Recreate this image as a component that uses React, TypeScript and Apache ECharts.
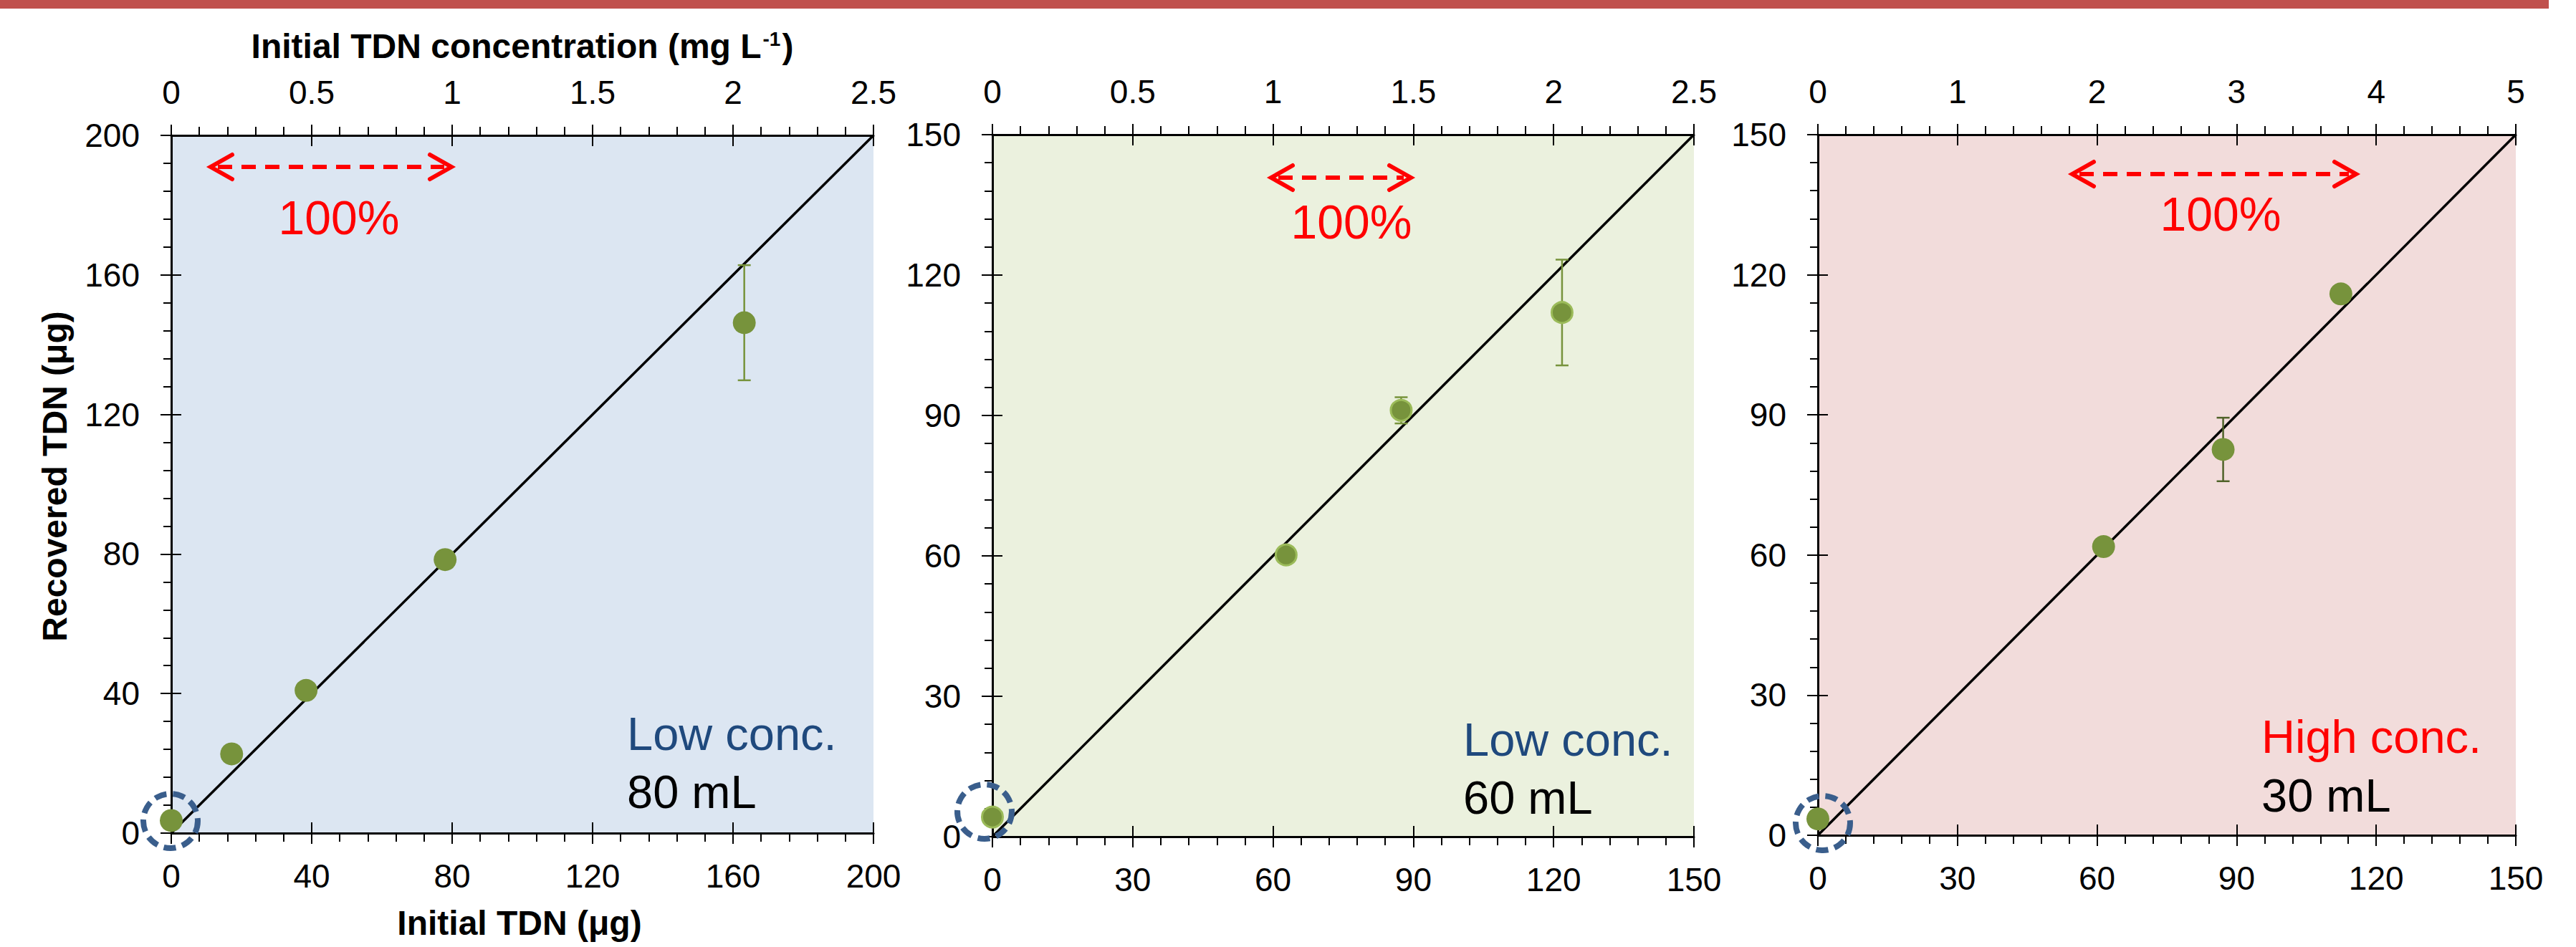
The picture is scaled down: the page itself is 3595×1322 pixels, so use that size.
import React, { useEffect, useRef } from "react";
import * as echarts from "echarts";

const FONT = "Liberation Sans, Arial, Helvetica, sans-serif";

// ---- Data ----
// Panel 1: Low conc., 80 mL
const p1Initial = [0, 17.2, 38.4, 78, 163.2];
const p1Recovered = [3.6, 22.7, 40.9, 78.4, 146.3];
const p1Err = [0, 0, 0, 0, 16.5];
// Panel 2: Low conc., 60 mL
const p2Initial = [0, 62.8, 87.4, 121.8];
const p2Recovered = [4.2, 60.2, 91.1, 112.0];
const p2Err = [0, 0, 2.8, 11.3];
// Panel 3: High conc., 30 mL
const p3Initial = [0, 61.4, 87.1, 112.4];
const p3Recovered = [3.5, 61.8, 82.6, 115.9];
const p3Err = [0, 0, 6.8, 0];

// Axis ranges / ticks
const massMax = [200, 150, 150];
const massStep = [40, 30, 30];
const concMax = [2.5, 2.5, 5];
const concStep = [0.5, 0.5, 1];

// 1:1 lines
const diag1 = [[0, 0], [200, 200]];
const diag2 = [[0, 0], [150, 150]];
const diag3 = [[0, 0], [150, 150]];

const concLabels = ["Low conc.", "Low conc.", "High conc."];
const volLabels = ["80 mL", "60 mL", "30 mL"];

// ---- Layout ----
const grids = [
  { left: 239, top: 189, width: 980, height: 974 },
  { left: 1385, top: 188, width: 979, height: 980 },
  { left: 2537, top: 188, width: 974, height: 978 },
];
const bgColors = ["#DCE6F2", "#EBF1DE", "#F2DCDB"];
const concColors = ["#1F497D", "#1F497D", "#FF0000"];
const errColors = ["#77933C", "#77933C", "#4F6228"];
const markerBorders = [0, 3, 0];
const arrows = [
  { x1: 294, x2: 630, y: 233, tx: 473, ty: 304 },
  { x1: 1774, x2: 1969, y: 248, tx: 1886, ty: 310 },
  { x1: 2892, x2: 3288, y: 243, tx: 3099, ty: 299 },
];
const noteText = [
  { x: 875, y1: 1024, y2: 1105 },
  { x: 2042, y1: 1032, y2: 1113 },
  { x: 3156, y1: 1028, y2: 1110 },
];
const circles = [
  { cx: 238, cy: 1146 },
  { cx: 1374, cy: 1133 },
  { cx: 2544, cy: 1149 },
];

const panelData = [
  { initial: p1Initial, recovered: p1Recovered, err: p1Err, diag: diag1 },
  { initial: p2Initial, recovered: p2Recovered, err: p2Err, diag: diag2 },
  { initial: p3Initial, recovered: p3Recovered, err: p3Err, diag: diag3 },
];

function buildOption() {
  const xAxis: any[] = [];
  const yAxis: any[] = [];
  const series: any[] = [];
  const tickStyle = { color: "#000", width: 2 };
  const labelStyle = { fontSize: 46, color: "#000", fontFamily: FONT };

  grids.forEach((_, g) => {
    const mk = (position: string, max: number, interval: number, main: boolean, margin: number) => ({
      type: "value",
      gridIndex: g,
      position,
      min: 0,
      max,
      interval,
      axisLine: { show: main, onZero: false, lineStyle: { color: "#000", width: 3 } },
      axisTick: { show: true, inside: main, length: 15, lineStyle: tickStyle },
      minorTick: { show: !main, splitNumber: 5, length: 12, lineStyle: tickStyle },
      splitLine: { show: false },
      minorSplitLine: { show: false },
      axisLabel: { show: main, margin, ...labelStyle },
    });
    xAxis.push(mk("bottom", massMax[g], massStep[g], true, 37));
    xAxis.push(mk("bottom", massMax[g], massStep[g], false, 37));
    xAxis.push(mk("top", concMax[g], concStep[g], true, 37));
    xAxis.push(mk("top", concMax[g], concStep[g], false, 37));
    const ym = mk("left", massMax[g], massStep[g], true, 44);
    ym.axisTick.length = 14;
    yAxis.push(ym);
    const yd = mk("left", massMax[g], massStep[g], false, 44);
    yd.minorTick.length = 11;
    yAxis.push(yd);

    const pd = panelData[g];
    series.push({
      type: "line",
      xAxisIndex: 4 * g,
      yAxisIndex: 2 * g,
      data: pd.diag,
      symbol: "none",
      silent: true,
      lineStyle: { color: "#000", width: 3.5 },
      z: 2,
    });
    series.push({
      type: "custom",
      xAxisIndex: 4 * g,
      yAxisIndex: 2 * g,
      coordinateSystem: "cartesian2d",
      encode: { x: 0, y: 1 },
      silent: true,
      z: 3,
      data: pd.initial
        .map((x, i) => [x, pd.recovered[i], pd.err[i]])
        .filter((d) => d[2] > 0),
      renderItem: (params: any, api: any) => {
        const x = api.value(0);
        const y = api.value(1);
        const e = api.value(2);
        const top = api.coord([x, y + e]);
        const bot = api.coord([x, y - e]);
        const style = { stroke: errColors[g], lineWidth: 2.5 };
        return {
          type: "group",
          children: [
            { type: "line", shape: { x1: top[0], y1: top[1], x2: bot[0], y2: bot[1] }, style },
            { type: "line", shape: { x1: top[0] - 9, y1: top[1], x2: top[0] + 9, y2: top[1] }, style },
            { type: "line", shape: { x1: bot[0] - 9, y1: bot[1], x2: bot[0] + 9, y2: bot[1] }, style },
          ],
        };
      },
    });
    series.push({
      type: "scatter",
      xAxisIndex: 4 * g,
      yAxisIndex: 2 * g,
      data: pd.initial.map((x, i) => [x, pd.recovered[i]]),
      symbol: "circle",
      symbolSize: markerBorders[g] ? 29 : 32,
      itemStyle: {
        color: "#77933C",
        borderColor: "#9BBB59",
        borderWidth: markerBorders[g],
        opacity: 1,
      },
      z: 4,
    });
  });

  const graphic: any[] = [];
  graphic.push({
    type: "rect",
    shape: { x: 0, y: 0, width: 3557, height: 12 },
    style: { fill: "#C0504D" },
    z: 100,
  });
  graphic.push({
    type: "text",
    x: 729,
    y: 64,
    z: 100,
    style: {
      text: "{b|Initial TDN concentration (mg L}{s|-1}{b|)}",
      align: "center",
      verticalAlign: "middle",
      rich: {
        b: { fontSize: 48, fontWeight: "bold", fontFamily: FONT, fill: "#000", color: "#000" },
        s: { fontSize: 28, fontWeight: "bold", fontFamily: FONT, fill: "#000", color: "#000", verticalAlign: "top", padding: [0, 2, 18, 2] },
      },
    },
  });
  graphic.push({
    type: "text",
    x: 76,
    y: 665,
    rotation: Math.PI / 2,
    z: 100,
    style: {
      text: "Recovered TDN (μg)",
      align: "center",
      verticalAlign: "middle",
      fontSize: 48,
      fontWeight: "bold",
      fontFamily: FONT,
      fill: "#000",
    },
  });
  graphic.push({
    type: "text",
    x: 725,
    y: 1288,
    z: 100,
    style: {
      text: "Initial TDN (μg)",
      align: "center",
      verticalAlign: "middle",
      fontSize: 48,
      fontWeight: "bold",
      fontFamily: FONT,
      fill: "#000",
    },
  });

  arrows.forEach((a) => {
    const red = "#FF0000";
    graphic.push({
      type: "line",
      z: 100,
      shape: { x1: a.x1 + 10, y1: a.y, x2: a.x2 - 10, y2: a.y },
      style: { stroke: red, lineWidth: 6, lineDash: [20, 13] },
    });
    graphic.push({
      type: "polyline",
      z: 100,
      shape: { points: [[a.x1 + 30, a.y - 17], [a.x1, a.y], [a.x1 + 30, a.y + 17]] },
      style: { stroke: red, lineWidth: 6, fill: "none", lineCap: "round" },
    });
    graphic.push({
      type: "polyline",
      z: 100,
      shape: { points: [[a.x2 - 30, a.y - 17], [a.x2, a.y], [a.x2 - 30, a.y + 17]] },
      style: { stroke: red, lineWidth: 6, fill: "none", lineCap: "round" },
    });
    graphic.push({
      type: "text",
      x: a.tx,
      y: a.ty,
      z: 100,
      style: {
        text: "100%",
        align: "center",
        verticalAlign: "middle",
        fontSize: 66,
        fontFamily: FONT,
        fill: red,
      },
    });
  });

  noteText.forEach((n, g) => {
    graphic.push({
      type: "text",
      x: n.x,
      y: n.y1,
      z: 100,
      style: {
        text: concLabels[g],
        align: "left",
        verticalAlign: "middle",
        fontSize: 65,
        fontFamily: FONT,
        fill: concColors[g],
      },
    });
    graphic.push({
      type: "text",
      x: n.x,
      y: n.y2,
      z: 100,
      style: {
        text: volLabels[g],
        align: "left",
        verticalAlign: "middle",
        fontSize: 65,
        fontFamily: FONT,
        fill: "#000",
      },
    });
  });

  circles.forEach((c) => {
    graphic.push({
      type: "circle",
      z: 100,
      shape: { cx: c.cx, cy: c.cy, r: 38 },
      style: { fill: "none", stroke: "#3A5E8C", lineWidth: 8, lineDash: [17, 9] },
    });
  });

  return {
    animation: false,
    backgroundColor: "#FFFFFF",
    grid: grids.map((gr, g) => ({
      ...gr,
      show: true,
      backgroundColor: bgColors[g],
      borderWidth: 0,
      containLabel: false,
    })),
    xAxis,
    yAxis,
    series,
    graphic,
  };
}

export default function App() {
  const ref = useRef<HTMLDivElement>(null);
  useEffect(() => {
    if (!ref.current) return;
    const chart = echarts.init(ref.current, undefined, { renderer: "svg" });
    chart.setOption(buildOption() as any);
    return () => chart.dispose();
  }, []);
  return (
    <div
      ref={ref}
      style={{ position: "fixed", left: 0, top: 0, width: 3595, height: 1322, background: "#fff" }}
    />
  );
}
